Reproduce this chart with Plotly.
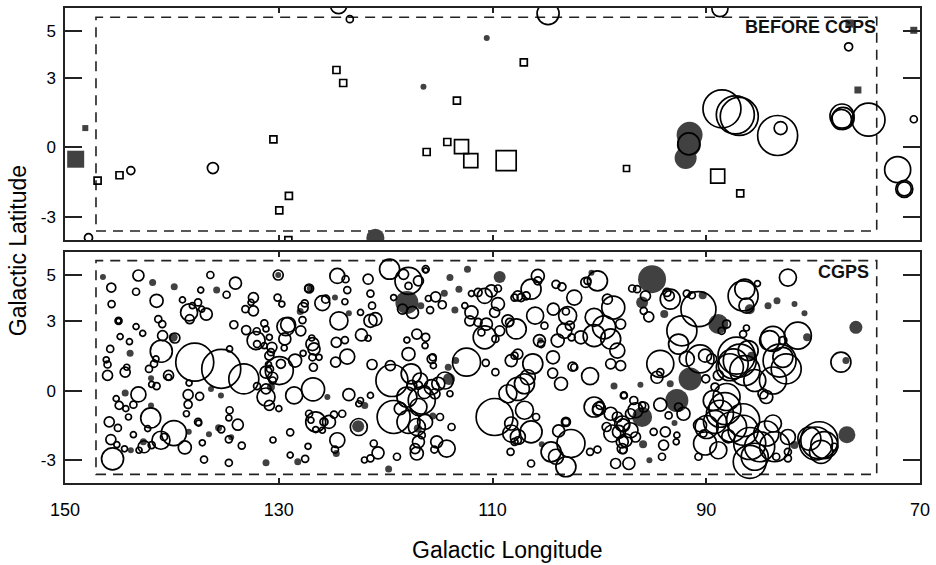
import plotly.graph_objects as go

# ---------------- DATA (galactic longitude, latitude, apparent diameter) ----------------
# Top panel: "BEFORE CGPS"
top_open_squares = [(146.95, -1.43, 7), (144.9, -1.2, 7), (130.5, 0.34, 7), (129.95, -2.71, 7),
                    (129.05, -2.09, 7), (129.1, -3.99, 7), (124.6, 3.33, 7), (123.97, 2.77, 7),
                    (113.33, 2.01, 7), (116.16, -0.2, 7), (114.23, 0.23, 7), (112.9, 0.03, 14),
                    (112.03, -0.57, 14), (108.72, -0.57, 20), (107.07, 3.66, 7), (97.46, -0.91, 6),
                    (88.93, -1.24, 14), (86.82, -1.98, 7)]
top_filled_squares = [(149.0, -0.51, 17), (148.1, 0.83, 6), (75.81, 2.47, 7), (70.58, 5.04, 7),
                      (76.6, 5.33, 8)]
top_open_circles = [(147.8, -3.89, 8), (143.84, -1.0, 8), (136.16, -0.89, 11), (124.4, 6.1, 16),
                    (123.35, 5.52, 7), (104.8, 5.76, 22), (88.72, 5.97, 16), (88.53, 1.66, 38),
                    (87.28, 1.4, 38), (86.91, 1.33, 38), (83.32, 0.51, 40), (83.04, 0.83, 13),
                    (77.3, 1.35, 24), (77.2, 1.25, 22), (77.35, 1.2, 20), (74.82, 1.19, 33),
                    (76.68, 4.33, 8), (70.58, 1.21, 7), (72.09, -0.96, 26), (71.47, -1.79, 17),
                    (71.47, -1.79, 14), (91.63, 0.15, 22)]
top_filled_circles = [(120.96, -3.89, 18), (116.46, 2.61, 6), (110.54, 4.71, 6), (91.56, 0.54, 26),
                      (91.63, 0.11, 24), (91.93, -0.46, 22)]

# Bottom panel: "CGPS" -- longitude 150-125
cgps_open_a = [
    (145.67, 4.44, 9), (143.13, 4.96, 11), (143.35, 4.26, 7), (145.64, 3.73, 7), (141.43, 3.87, 13),
    (136.4, 4.98, 7), (134.05, 4.63, 12), (134.88, 4.13, 7), (137.3, 4.33, 6), (139.01, 3.91, 6),
    (138.08, 3.66, 6), (137.55, 3.8, 7), (138.39, 3.37, 17), (136.78, 3.3, 12), (137.21, 3.51, 6),
    (138.33, 3.08, 9), (144.99, 3.01, 7), (144.99, 3.01, 5), (143.35, 2.76, 6), (142.73, 2.47, 6),
    (144.84, 2.33, 6), (143.97, 2.11, 6), (141.27, 3.08, 7), (140.9, 2.87, 7), (140.87, 2.37, 10),
    (139.72, 2.27, 10), (140.99, 1.7, 22), (145.77, 1.8, 7), (146.14, 1.33, 6), (146.02, 1.13, 7),
    (146.02, 0.66, 10), (144.22, 1.01, 6), (144.37, 0.8, 10), (142.14, 0.94, 7), (141.67, 1.16, 7),
    (141.49, 1.37, 6), (137.86, 1.23, 38), (135.38, 0.94, 39), (133.27, 0.51, 30), (134.6, 1.8, 6),
    (140.31, 0.66, 10), (140.31, 0.58, 6), (141.89, 0.27, 6), (141.43, 0.2, 7), (138.39, 0.33, 6),
    (143.13, -0.16, 15), (145.21, -0.34, 6), (144.93, -0.63, 8), (144.31, -0.77, 6), (143.6, -0.6, 7),
    (141.98, -1.17, 20), (144.06, -1.13, 6), (145.86, -1.34, 10), (145.05, -1.6, 7), (138.48, -0.17, 10),
    (137.4, -0.24, 8), (138.48, -0.59, 8), (138.64, -0.99, 6), (137.55, -1.34, 7), (137.49, -1.39, 6),
    (134.6, -0.84, 7), (134.67, -1.17, 6), (133.83, -1.46, 11), (139.81, -1.82, 25), (141.02, -2.13, 18),
    (140.74, -1.99, 7), (142.26, -1.63, 6), (135.38, -1.66, 7), (134.67, -2.09, 7), (143.6, -1.89, 6),
    (145.71, -2.1, 10), (145.15, -2.32, 6), (144.43, -2.5, 6), (143.07, -2.56, 6), (142.6, -2.41, 12),
    (141.89, -2.34, 7), (138.79, -2.44, 13), (137.15, -2.24, 6), (133.46, -2.36, 7), (145.55, -2.93, 22),
    (136.99, -2.96, 7), (134.67, -3.1, 7), (130.54, -2.12, 6), (128.93, -1.79, 7), (128.93, -2.77, 6),
    (127.53, -2.93, 7), (127.26, -2.39, 6), (130.05, 4.98, 10), (130.11, 4.01, 7), (129.71, 3.73, 6),
    (132.37, 4.01, 10), (132.59, 3.8, 6), (133.12, 3.51, 7), (132.37, 3.44, 10), (134.2, 2.84, 8),
    (133.05, 2.61, 9), (132.06, 2.56, 7), (132.12, 2.16, 18), (131.35, 2.9, 7), (131.19, 2.66, 6),
    (130.88, 2.3, 6), (130.64, 1.87, 10), (132.03, 2.01, 7), (131.35, 1.94, 6), (130.88, 1.51, 9),
    (130.73, 1.66, 7), (131.19, 0.8, 12), (130.82, 0.94, 7), (130.96, 1.13, 6), (130.57, 0.58, 10),
    (130.57, 0.44, 7), (129.95, 0.87, 28), (129.33, 2.76, 18), (129.12, 2.84, 15), (129.43, 2.23, 12),
    (129.49, 1.84, 6), (129.8, 1.16, 9), (131.19, 0.08, 10), (131.19, -0.27, 18), (130.88, -0.63, 10),
    (129.99, -0.77, 6), (128.56, -0.2, 17), (126.79, 0.06, 23), (132.03, 0.2, 7), (128.47, 1.3, 13),
    (127.72, 1.61, 6), (126.85, 2.01, 13), (126.7, 1.8, 12), (126.85, 1.44, 7), (126.76, 1.01, 8),
    (126.23, 1.44, 6), (127.94, 2.58, 10), (127.78, 3.04, 7), (127.72, 3.58, 10), (127.57, 3.76, 7),
    (127.22, 4.4, 7), (127.16, 4.4, 9), (125.92, 3.77, 15), (125.61, 3.94, 8), (126.91, 2.27, 6),
    (126.54, -1.34, 20), (127.16, -0.99, 7), (126.99, -1.27, 6), (126.54, -1.67, 6), (125.77, -1.34, 8)]
cgps_filled_a = [
    (146.45, 4.9, 6), (141.8, 4.66, 7), (139.78, 4.48, 7), (135.81, 4.33, 7), (139.88, 2.3, 9),
    (143.91, 1.61, 7), (141.95, 0.54, 6), (144.37, -0.1, 7), (141.95, -0.63, 6), (136.34, 0.08, 6),
    (135.41, -0.2, 6), (138.42, -1.77, 6), (136.53, -1.87, 6), (135.63, -1.59, 7), (134.45, -2.0, 6),
    (143.84, -2.56, 6), (142.67, -2.2, 7), (131.19, -3.1, 7), (128.22, -3.06, 7), (130.05, 4.98, 6),
    (130.73, 0.16, 8), (127.99, 3.41, 7), (127.1, 4.4, 6)]

# longitude 125-97
cgps_open_b = [
    (124.52, 4.94, 15), (123.75, 4.8, 7), (123.59, 4.33, 7), (123.81, 3.83, 6), (121.64, 4.8, 10),
    (121.42, 4.18, 7), (121.27, 3.66, 7), (119.63, 5.23, 20), (117.86, 4.73, 27), (118.32, 5.01, 10),
    (117.86, 4.51, 7), (116.93, 4.73, 10), (116.25, 5.23, 7), (116.25, 5.18, 5), (119.25, 4.01, 6),
    (118.42, 3.51, 10), (117.49, 3.37, 12), (115.84, 3.47, 7), (116.0, 3.97, 6), (115.32, 4.04, 10),
    (114.7, 3.7, 8), (124.37, 3.01, 18), (122.35, 3.37, 6), (121.42, 3.01, 13), (120.96, 3.08, 13),
    (122.26, 2.4, 12), (121.64, 2.26, 6), (124.62, 2.08, 10), (123.81, 2.18, 7), (123.59, 1.47, 15),
    (124.68, 1.23, 10), (123.44, -0.17, 12), (121.27, 1.13, 10), (118.01, 2.18, 6), (117.08, 2.44, 10),
    (116.25, 2.3, 8), (116.31, 1.94, 6), (119.56, 1.08, 10), (117.86, 1.58, 13), (115.69, 1.37, 9),
    (115.59, 1.44, 7), (115.53, 1.08, 6), (119.41, 0.44, 32), (117.61, 0.73, 20), (116.77, 0.44, 15),
    (117.55, 0.23, 10), (116.93, 0.23, 8), (116.37, -0.06, 13), (115.69, 0.16, 15), (115.07, 0.3, 13),
    (114.45, 0.44, 17), (113.98, -0.13, 6), (115.38, -0.13, 10), (116.62, -0.42, 27), (116.93, -0.7, 17),
    (118.01, -0.27, 20), (119.25, -1.13, 33), (118.63, -0.77, 12), (117.86, -1.34, 23), (117.08, -1.56, 17),
    (116.31, -1.34, 15), (114.91, -1.13, 7), (113.83, -1.56, 7), (116.93, -2.2, 12), (116.62, -1.91, 7),
    (117.08, -2.7, 13), (117.24, -2.49, 10), (115.22, -2.2, 12), (114.29, -2.49, 17), (115.44, -2.53, 7),
    (118.94, -2.84, 7), (121.11, -2.27, 7), (120.71, -2.67, 12), (121.42, -2.91, 7), (121.98, -2.98, 6),
    (124.52, -2.13, 15), (124.74, -2.53, 7), (125.3, -1.34, 13), (124.83, -1.03, 7), (124.06, -0.99, 7),
    (125.92, -1.7, 6), (122.51, -1.56, 17), (121.42, -0.2, 6), (122.51, -0.56, 6), (122.35, -0.42, 6),
    (112.43, 1.23, 28), (110.63, 1.2, 7), (109.73, 0.8, 7), (109.8, -1.13, 37), (108.56, -0.13, 18),
    (107.63, 0.08, 23), (107.01, 0.3, 20), (106.7, 0.58, 15), (106.23, 1.16, 20), (107.63, 1.58, 10),
    (107.94, 1.51, 7), (108.25, 1.3, 12), (108.25, -1.84, 17), (107.63, -1.99, 15), (108.25, -1.41, 13),
    (107.63, -2.13, 7), (107.94, -2.2, 7), (106.39, -1.77, 22), (105.92, -1.13, 7), (107.01, -0.84, 18),
    (108.31, -2.63, 7), (106.39, -3.13, 7), (104.52, -2.63, 20), (104.06, -2.84, 15), (103.13, -3.27, 20),
    (102.66, -2.27, 28), (103.81, -1.73, 12), (103.13, -1.34, 9), (103.13, -1.34, 7), (100.87, -2.63, 7),
    (100.18, -2.53, 7), (104.37, 0.76, 10), (103.59, 0.3, 13), (102.35, 1.01, 7), (102.51, 1.04, 9),
    (100.87, 0.63, 17), (97.7, -0.2, 6), (100.49, -0.7, 20), (100.03, -0.77, 13), (100.18, -0.84, 10),
    (99.94, -0.63, 8), (98.94, -0.99, 13), (98.32, -1.13, 10), (97.86, -1.41, 15), (98.79, -1.84, 17),
    (98.17, -1.77, 13), (97.86, -2.2, 12), (97.76, -2.56, 7), (98.48, -3.13, 10), (99.32, -1.56, 9),
    (112.59, 3.66, 6), (111.97, 3.37, 13), (112.12, 3.01, 10), (111.35, 2.94, 8), (111.97, 4.18, 6),
    (111.35, 4.23, 8), (110.73, 4.08, 15), (110.11, 4.3, 12), (109.49, 3.73, 13), (109.49, 4.4, 7),
    (109.8, 3.37, 10), (109.33, 2.58, 10), (110.57, 2.87, 12), (110.73, 2.3, 23), (111.04, 2.51, 7),
    (109.73, 2.23, 7), (108.56, 3.01, 12), (108.4, 2.94, 8), (107.78, 2.66, 20), (107.94, 4.01, 7),
    (107.63, 4.08, 10), (107.32, 4.01, 8), (106.85, 4.08, 8), (106.39, 4.37, 20), (105.76, 4.94, 13),
    (105.76, 4.73, 8), (106.01, 3.23, 17), (105.61, 2.16, 12), (105.45, 2.01, 7), (105.14, 2.8, 7),
    (104.31, 3.51, 12), (104.34, 1.44, 13), (103.9, 2.16, 13), (103.28, 2.58, 15), (103.13, 3.41, 7),
    (102.97, 3.23, 18), (102.35, 4.01, 15), (104.06, 4.58, 8), (103.5, 4.47, 8), (102.76, 2.8, 9),
    (102.6, 2.3, 7), (101.73, 2.3, 13), (101.27, 4.66, 10), (101.11, 4.73, 7), (100.18, 4.73, 20),
    (100.49, 3.16, 18), (100.49, 2.37, 22), (99.56, 2.73, 23), (98.94, 2.23, 20), (99.25, 3.94, 10),
    (98.7, 3.58, 23), (98.01, 2.87, 10), (98.32, 1.73, 15), (98.94, 1.16, 10), (98.01, 1.08, 10)]
cgps_filled_b = [
    (124.74, 4.01, 6), (118.01, 3.8, 23), (116.71, 3.66, 7), (114.51, 4.2, 7), (113.98, 4.87, 7),
    (113.14, 4.37, 7), (112.34, 5.23, 7), (113.52, 3.47, 7), (109.33, 4.9, 12), (123.44, 3.33, 6),
    (125.45, -0.27, 6), (114.14, 1.01, 7), (114.07, 0.51, 12), (115.59, -1.09, 7), (116.99, -1.63, 8),
    (119.72, -3.37, 7), (124.62, -2.7, 7), (122.57, -1.53, 12), (121.95, -0.63, 7), (113.45, 1.3, 7),
    (105.39, -2.3, 6), (98.63, 0.2, 7), (105.52, 2.16, 6), (100.74, 5.08, 6)]

# longitude 97-74
cgps_open_c = [
    (96.93, 4.4, 7), (96.47, 4.37, 7), (95.69, 4.08, 10), (95.85, 3.44, 7), (95.38, 3.18, 10),
    (93.68, 4.23, 8), (93.37, 3.94, 20), (93.46, 4.08, 10), (91.82, 4.18, 7), (91.35, 4.11, 7),
    (90.73, 3.51, 35), (92.28, 2.58, 30), (92.59, 2.01, 20), (91.82, 1.37, 15), (90.58, 1.37, 28),
    (88.1, 2.87, 8), (88.56, 2.58, 7), (86.55, 4.08, 30), (86.39, 4.37, 20), (85.21, 4.61, 6),
    (86.24, 3.66, 15), (82.36, 4.87, 17), (86.24, 2.7, 6), (86.55, 2.44, 7), (84.07, 2.16, 20),
    (83.76, 2.23, 25), (82.83, 2.16, 8), (81.43, 2.37, 27), (87.17, 1.51, 37), (86.86, 1.3, 33),
    (87.48, 1.16, 30), (86.39, 0.87, 30), (87.79, 1.01, 27), (86.08, 1.73, 20), (83.14, 1.3, 33),
    (82.83, 1.44, 20), (82.52, 0.94, 30), (83.76, 0.44, 27), (85.46, 0.44, 22), (84.69, -0.13, 10),
    (84.38, -0.27, 13), (77.4, 1.23, 20), (88.87, 0.66, 10), (89.18, 0.16, 8), (89.34, -0.42, 20),
    (88.1, -0.27, 27), (88.25, -0.77, 32), (88.72, -0.99, 27), (89.18, -1.34, 23), (89.96, -1.56, 23),
    (87.63, -1.56, 30), (86.55, -1.27, 33), (86.55, -1.7, 30), (85.93, -2.27, 32), (85.0, -2.41, 30),
    (85.93, -3.06, 33), (85.46, -2.84, 27), (84.38, -1.84, 25), (83.76, -1.41, 17), (83.6, -2.41, 30),
    (83.45, -2.84, 7), (82.36, -2.63, 7), (82.36, -2.91, 7), (82.36, -1.99, 15), (80.35, -2.06, 23),
    (79.73, -2.27, 33), (79.42, -2.13, 37), (78.95, -2.34, 27), (79.26, -2.63, 23), (90.58, -1.49, 13),
    (90.27, -1.84, 7), (90.73, -2.84, 7), (88.87, -2.56, 17), (90.11, -2.27, 23), (94.3, 1.16, 27),
    (94.61, 0.58, 12), (94.3, 0.8, 7), (92.13, -0.99, 13), (93.52, -1.06, 7), (94.3, -0.6, 13),
    (92.59, -0.7, 8), (93.83, -1.77, 10), (94.92, -1.77, 7), (93.99, -2.34, 10), (94.14, -2.84, 7),
    (92.75, -1.91, 6), (92.81, -2.2, 6), (97.24, -3.13, 12), (95.85, -0.7, 10), (96.62, -0.84, 15),
    (97.71, -0.2, 7), (96.78, -0.42, 8), (96.0, -0.63, 7), (97.09, -0.99, 10), (97.77, -1.49, 13),
    (97.09, -1.7, 15), (97.55, -2.13, 13), (96.62, -1.99, 10), (97.86, -2.49, 10), (90.11, 1.51, 13),
    (89.49, 1.37, 10), (90.05, 0.51, 8), (78.02, -2.41, 7), (87.94, -1.96, 13)]
cgps_filled_c = [
    (95.07, 4.8, 28), (96.0, 3.8, 12), (93.93, 3.3, 8), (90.33, 4.11, 8), (88.87, 2.87, 20),
    (85.93, 3.51, 10), (84.22, 3.66, 7), (83.38, 3.87, 7), (81.74, 3.73, 6), (80.81, 3.34, 6),
    (80.56, 2.3, 8), (85.77, 1.51, 8), (76.93, 1.3, 7), (76.0, 2.73, 13), (81.74, -2.34, 8),
    (76.84, -1.89, 17), (93.37, 0.3, 7), (96.16, 0.26, 6), (91.51, 0.51, 23), (92.75, -0.42, 23),
    (92.97, -1.39, 6), (95.91, -2.3, 8), (95.32, -2.99, 6), (96.0, -1.13, 20)]

# Survey boundary (CGPS coverage) and axis ticks
survey_lon = [147.1, 74.05]
survey_lat = [-3.6, 5.6]
lon_ticks = [150, 130, 110, 90, 70]
lat_ticks = [-3, 0, 3, 5]
lat_tick_text = ["-3", "0", "3", "5"]
panel_labels = ["BEFORE CGPS", "CGPS"]

# ---------------- STYLE ----------------
FONT = "Liberation Sans, Arial, sans-serif"
DARK = "#414141"
INK = "#222222"
PX_PER_UNIT = 1.0

fig = go.Figure()


def add_points(pts, symbol, filled, xa, ya):
    fig.add_trace(go.Scatter(
        x=[p[0] for p in pts], y=[p[1] for p in pts], mode="markers",
        xaxis=xa, yaxis=ya, hoverinfo="skip", showlegend=False, cliponaxis=True,
        marker=dict(symbol=symbol, opacity=1,
                    size=[p[2] * PX_PER_UNIT for p in pts],
                    color=DARK if filled else "black",
                    line=dict(width=0 if filled else 1.7, color=DARK if filled else "black"))))


# top panel
add_points(top_filled_circles, "circle", True, "x", "y")
add_points(top_filled_squares, "square", True, "x", "y")
add_points(top_open_circles, "circle-open", False, "x", "y")
add_points(top_open_squares, "square-open", False, "x", "y")
# bottom panel
add_points(cgps_filled_a + cgps_filled_b + cgps_filled_c, "circle", True, "x2", "y2")
add_points(cgps_open_a + cgps_open_b + cgps_open_c, "circle-open", False, "x2", "y2")

axis_common = dict(showline=True, linecolor=INK, linewidth=1.5, mirror="ticks", showgrid=False,
                   zeroline=False, tickcolor=INK, tickwidth=1.5)
xcommon = dict(axis_common, range=[150, 70], tickmode="array", tickvals=lon_ticks,
               ticks="inside", ticklen=5, domain=[0, 1])
ycommon = dict(axis_common, tickmode="array", tickvals=lat_ticks, ticktext=lat_tick_text,
               ticks="inside", ticklen=17, ticklabelstandoff=4,
               tickfont=dict(family=FONT, size=17, color="black"))

fig.update_layout(
    width=936, height=565,
    margin=dict(l=65, r=11, t=6, b=82),
    paper_bgcolor="white", plot_bgcolor="white", showlegend=False,
    xaxis=dict(xcommon, anchor="y", showticklabels=False),
    yaxis=dict(ycommon, anchor="x", domain=[0.5115, 1.0], range=[-3.99, 6.0]),
    xaxis2=dict(xcommon, anchor="y2", showticklabels=True, ticklabelstandoff=10,
                tickfont=dict(family=FONT, size=18, color="black")),
    yaxis2=dict(ycommon, anchor="x2", domain=[0.0, 0.4853], range=[-3.97, 5.95]),
)

dash = dict(color=INK, width=1.6, dash="10px,7px")
for xr, yr in (("x", "y"), ("x2", "y2")):
    fig.add_shape(type="rect", xref=xr, yref=yr, x0=survey_lon[0], x1=survey_lon[1],
                  y0=survey_lat[0], y1=survey_lat[1], line=dash, layer="below")

fig.add_annotation(xref="x", yref="y", x=74.14, y=5.19, text="<b>%s</b>" % panel_labels[0],
                   showarrow=False, xanchor="right", yanchor="middle", xshift=2,
                   font=dict(family=FONT, size=18, color="#111"))
fig.add_annotation(xref="x2", yref="y2", x=74.76, y=5.12, text="<b>%s</b>" % panel_labels[1],
                   showarrow=False, xanchor="right", yanchor="middle", xshift=2,
                   font=dict(family=FONT, size=18, color="#111"))

fig.add_annotation(xref="paper", yref="paper", x=0.5174, y=-0.1405, text="Galactic Longitude",
                   showarrow=False, xanchor="center", yanchor="middle",
                   font=dict(family=FONT, size=23, color="black"))
fig.add_annotation(xref="paper", yref="paper", x=-0.0547, y=0.4885, text="Galactic Latitude",
                   showarrow=False, xanchor="center", yanchor="middle", textangle=-90,
                   font=dict(family=FONT, size=23, color="black"))

fig.write_html("out.html")
